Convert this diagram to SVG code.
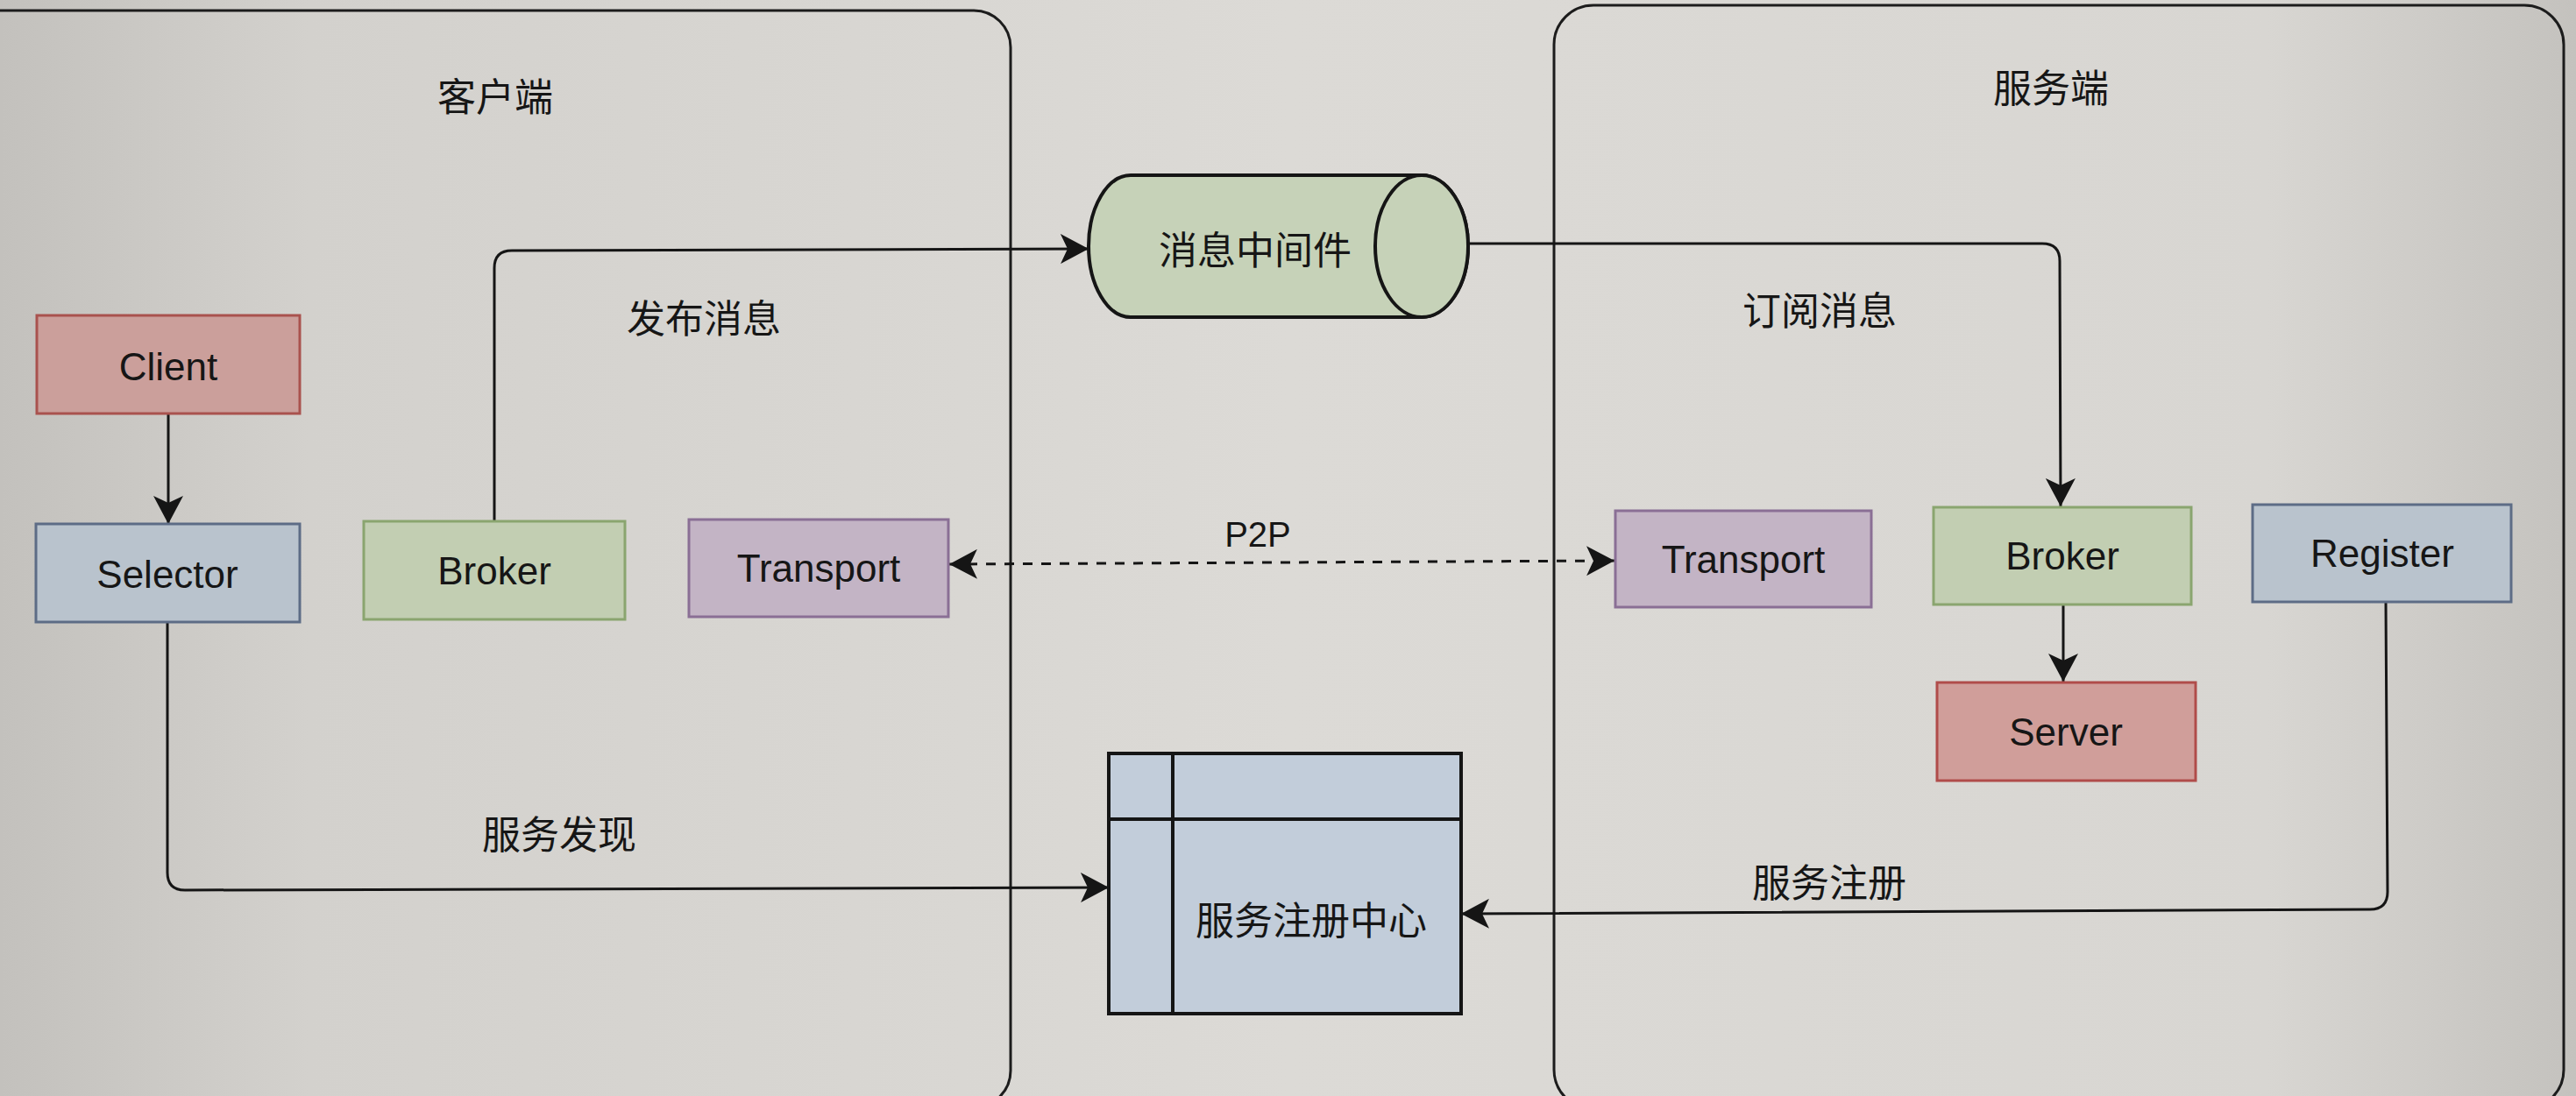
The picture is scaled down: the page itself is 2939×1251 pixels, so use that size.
<svg xmlns="http://www.w3.org/2000/svg" width="2939" height="1251" viewBox="0 0 2939 1251">
  <style>
    .lbl { font-family: "Liberation Sans", Arial, sans-serif; font-size: 44px; fill: #161616; text-anchor: middle; dominant-baseline: central; }
    .cjk { font-family: "Noto Sans CJK SC", "Noto Sans", sans-serif; font-size: 44px; fill: #161616; text-anchor: middle; dominant-baseline: central; }
    .container { fill: none; stroke: #1c1c1c; stroke-width: 3; }
    .box { stroke-width: 3; }
    .edge { fill: none; stroke: #151515; stroke-width: 3; }
    .red { fill: #cb9f9b; stroke: #a9524e; }
    .blue { fill: #b9c3cd; stroke: #5d6c86; }
    .green { fill: #c2ceb2; stroke: #8aa56f; }
    .purple { fill: #c3b4c5; stroke: #8a6f95; }
  </style>
  <defs>
    <linearGradient id="bg" x1="0" y1="0" x2="1" y2="0">
      <stop offset="0" stop-color="#c3c1bd"/>
      <stop offset="0.12" stop-color="#d3d1cd"/>
      <stop offset="0.5" stop-color="#dcdad6"/>
      <stop offset="0.88" stop-color="#d8d6d2"/>
      <stop offset="1" stop-color="#c4c2be"/>
    </linearGradient>
    <marker id="arrow" markerUnits="userSpaceOnUse" markerWidth="34" markerHeight="34" refX="32" refY="17" orient="auto-start-reverse">
      <path d="M0,0 L32,17 L0,34 L8,17 Z" fill="#151515"/>
    </marker>
  </defs>

  <rect x="0" y="0" width="2939" height="1251" fill="url(#bg)"/>

  <g id="client-side">
    <rect class="container" x="-60" y="12" width="1213" height="1252" rx="42"/>
    <text class="cjk" x="565" y="108">客户端</text>
  </g>
  <g id="server-side">
    <rect class="container" x="1773" y="6" width="1152" height="1260" rx="45"/>
    <text class="cjk" x="2340" y="98">服务端</text>
  </g>

  <g id="connectors">
    <path class="edge" d="M192,473 L192,598" marker-end="url(#arrow)"/>
    <path class="edge" d="M191,711 L191,996 Q191,1016 211,1016 L1265,1013" marker-end="url(#arrow)"/>
    <path class="edge" d="M564,595 L564,306 Q564,286 584,286 L1242,284" marker-end="url(#arrow)"/>
    <path class="edge" d="M1675,278 L2330,278 Q2350,278 2350,298 L2351,578" marker-end="url(#arrow)"/>
    <path class="edge" d="M2354,690 L2354,778" marker-end="url(#arrow)"/>
    <path class="edge" d="M2722,687 L2724,1018 Q2724,1038 2704,1038 L1667,1043" marker-end="url(#arrow)"/>
    <path class="edge" d="M1083,644 L1842,640" stroke-dasharray="11 10" stroke-width="4" marker-start="url(#arrow)" marker-end="url(#arrow)"/>
    <text class="cjk" x="803" y="361">发布消息</text>
    <text class="cjk" x="2076" y="352">订阅消息</text>
    <text class="lbl" x="1435" y="610" style="font-size:40px">P2P</text>
    <text class="cjk" x="638" y="950">服务发现</text>
    <text class="cjk" x="2087" y="1005">服务注册</text>
  </g>

  <g id="client">
    <rect class="box red" x="42" y="360" width="300" height="112"/>
    <text class="lbl" x="192" y="418">Client</text>
  </g>
  <g id="selector">
    <rect class="box blue" x="41" y="598" width="301" height="112"/>
    <text class="lbl" x="191" y="655">Selector</text>
  </g>
  <g id="broker-client">
    <rect class="box green" x="415" y="595" width="298" height="112"/>
    <text class="lbl" x="564" y="651">Broker</text>
  </g>
  <g id="transport-client">
    <rect class="box purple" x="786" y="593" width="296" height="111"/>
    <text class="lbl" x="934" y="648">Transport</text>
  </g>

  <g id="message-middleware">
    <path d="M1290,200 L1622,200 A53,81 0 0 1 1622,362 L1290,362 A48,81 0 0 1 1290,200 Z" fill="#c6d2b8" stroke="#151515" stroke-width="4"/>
    <ellipse cx="1622" cy="281" rx="53" ry="81" fill="#c6d2b8" stroke="#151515" stroke-width="4"/>
    <text class="cjk" x="1432" y="283">消息中间件</text>
  </g>

  <g id="transport-server">
    <rect class="box purple" x="1843" y="583" width="292" height="110"/>
    <text class="lbl" x="1989" y="638">Transport</text>
  </g>
  <g id="broker-server">
    <rect class="box green" x="2206" y="579" width="294" height="111"/>
    <text class="lbl" x="2353" y="634">Broker</text>
  </g>
  <g id="register">
    <rect class="box blue" x="2570" y="576" width="295" height="111"/>
    <text class="lbl" x="2718" y="631">Register</text>
  </g>
  <g id="server">
    <rect class="box red" x="2210" y="779" width="295" height="112" style="fill:#d09e9a;stroke:#b04c4a"/>
    <text class="lbl" x="2357" y="835">Server</text>
  </g>

  <g id="registry-center">
    <rect x="1265" y="860" width="402" height="297" fill="#c2cdda" stroke="#151515" stroke-width="4"/>
    <line x1="1338" y1="860" x2="1338" y2="1157" stroke="#151515" stroke-width="4"/>
    <line x1="1265" y1="935" x2="1667" y2="935" stroke="#151515" stroke-width="4"/>
    <text class="cjk" x="1496" y="1048">服务注册中心</text>
  </g>
</svg>
